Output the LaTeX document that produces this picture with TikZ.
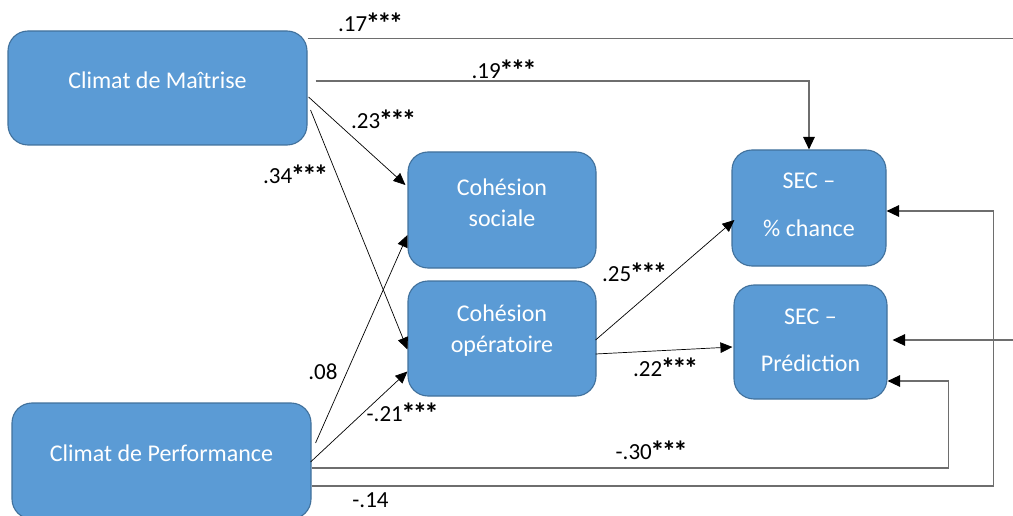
\documentclass[tikz,border=0pt]{standalone}
\usepackage{fontspec}
\setmainfont{Carlito}
\usetikzlibrary{arrows.meta}
\definecolor{boxfill}{HTML}{5B9BD5}
\definecolor{boxline}{HTML}{41719C}
\definecolor{elbow}{HTML}{6E6E6E}
\newcommand{\bxt}[2]{\raisebox{#1}[\height][\depth]{\begin{tabular}{@{}c@{}}#2\end{tabular}}}
\newcommand{\onestar}{\makebox[11.5pt]{\raisebox{-1.5pt}{\scalebox{1.25}{\textbf{*}}}}}
\newcommand{\stars}{\onestar\onestar\onestar}
\tikzset{
  box/.style={draw=boxline, line width=1.1pt, fill=boxfill, rounded corners=20pt,
    text=white, inner sep=0pt, font=\fontsize{24}{31}\selectfont},
  coef/.style={font=\fontsize{23}{28}\selectfont, inner sep=1pt},
  diag/.style={draw=black, line width=0.7pt, -{Triangle[length=12pt,width=10.5pt]}},
  elb/.style={draw=elbow, line width=1.3pt},
  elbarrow/.style={elb, -{Triangle[length=12.5pt,width=11.5pt,fill=black,color=black]}},
}
\begin{document}
\begin{tikzpicture}[x=1pt,y=-1pt]
\useasboundingbox (0,0) rectangle (1013,516);
% boxes
\node[box, minimum width=299pt, minimum height=114pt] (maitrise) at (157.5,88) {\bxt{6pt}{Climat de Maîtrise}};
\node[box, minimum width=299pt, minimum height=116pt] (perf) at (161.5,461) {\bxt{6pt}{Climat de Performance}};
\node[box, minimum width=188pt, minimum height=116pt] (soc) at (502,210) {\bxt{5.5pt}{Cohésion\\sociale}};
\node[box, minimum width=188pt, minimum height=115pt] (ope) at (502,338.5) {\bxt{8pt}{Cohésion\\opératoire}};
\node[box, minimum width=154pt, minimum height=116pt] (chance) at (809,208) {\bxt{1.5pt}{SEC –\\[17pt]\% chance}};
\node[box, minimum width=153pt, minimum height=114pt] (pred) at (810.5,342) {\bxt{0pt}{SEC –\\[16pt]Prédiction}};
% elbow connectors
\draw[elbarrow] ([yshift=-8pt]maitrise.north east) -- ++(730,0) |- ([xshift=5pt,yshift=2pt]pred.east);
\draw[elbarrow] ([xshift=8pt,yshift=7pt]maitrise.east) -| (chance.north);
\draw[elbarrow] ([yshift=-7pt]perf.east) -| ([xshift=61pt,yshift=-39pt]pred.east) -- ([yshift=-39pt]pred.east);
\draw[elbarrow] ([yshift=-25pt]perf.east) -| ([xshift=107pt,yshift=-3pt]chance.east) -- ([yshift=-3pt]chance.east);
% diagonal connectors
\draw[diag] ([xshift=1pt,yshift=-9pt]maitrise.east) -- ([xshift=-2pt,yshift=25pt]soc.west);
\draw[diag] ([xshift=3pt,yshift=-22pt]maitrise.east) -- ([yshift=-11pt]ope.west);
\draw[diag] ([xshift=4pt,yshift=18pt]perf.east) -- ([yshift=-25pt]soc.west);
\draw[diag] ([xshift=-1pt,yshift=-1pt]perf.east) -- ([yshift=-33pt]ope.west);
\draw[diag] ([xshift=-1pt,yshift=-1.5pt]ope.east) -- ([xshift=3pt,yshift=-12pt]chance.west);
\draw[diag] ([xshift=-1pt,yshift=-15.5pt]ope.east) -- ([xshift=-1pt,yshift=-5pt]pred.west);
% coefficients
\node[coef] (c17) at (370,23) {.17\stars};
\node[coef] (c19) at (503.5,70) {.19\stars};
\node[coef] (c23) at (383,120) {.23\stars};
\node[coef] (c34) at (295,175) {.34\stars};
\node[coef] (c08) at (323,372) {.08};
\node[coef] (c21) at (402,413) {-.21\stars};
\node[coef] (c14) at (370.5,500) {-.14};
\node[coef] (c25) at (634,273) {.25\stars};
\node[coef] (c22) at (665,368) {.22\stars};
\node[coef] (c30) at (651,451) {-.30\stars};
\end{tikzpicture}
\end{document}
